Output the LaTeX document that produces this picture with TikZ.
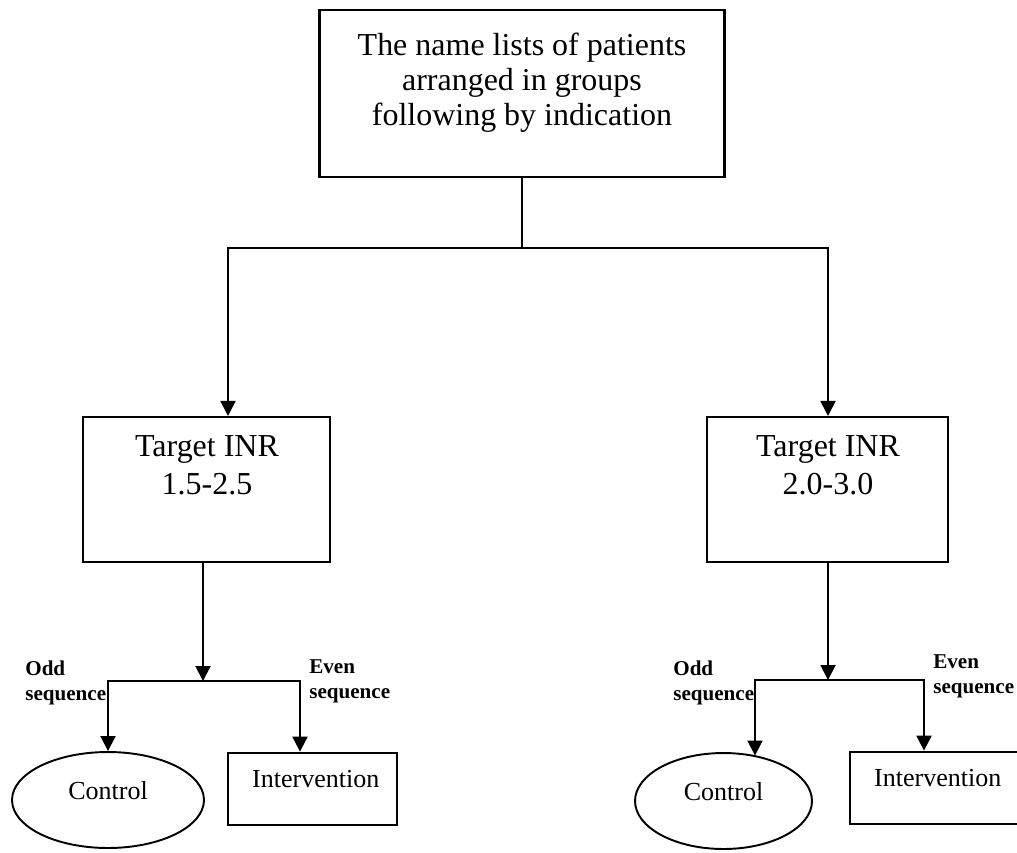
\documentclass[tikz,border=0pt]{standalone}
\usepackage{fontspec}
\setmainfont{Liberation Serif}
\usetikzlibrary{arrows.meta, shapes.geometric}

\begin{document}
\begin{tikzpicture}[x=0.02cm, y=-0.02cm,
  box/.style={draw, line width=1.2pt, inner sep=0pt},
  oval/.style={draw, ellipse, line width=1.1pt, inner sep=0pt, minimum width=3.84cm, minimum height=1.92cm,
    font=\fontsize{14.8}{17}\selectfont, text depth=0.4cm},
  armbox/.style={draw, line width=1.6pt, inner sep=0pt, minimum width=3.38cm, minimum height=1.44cm,
    font=\fontsize{14.8}{17}\selectfont, text depth=0.4cm},
  boxtext/.style={anchor=north, align=center, inner sep=0pt, font=\fontsize{18.2}{19.8}\selectfont},
  seqlabel/.style={anchor=north west, align=left, inner sep=0pt, font=\fontsize{12}{14.2}\selectfont\bfseries},
  arr/.style={line width=1.1pt, -{Triangle[width=0.3cm, length=0.3cm]}},
  ln/.style={line width=1.1pt}]
  \useasboundingbox (0,0) rectangle (1017,852);

  \node[box, minimum width=8.1cm, minimum height=3.34cm] (lists) at (522,93.5) {};
  \node[boxtext] (liststext) at (522,33) {The name lists of patients\\arranged in groups\\following by indication};

  \node[box, minimum width=4.94cm, minimum height=2.9cm] (inrlo) at (206.5,489.5) {};
  \node[boxtext, font=\fontsize{18.2}{21.6}\selectfont] (inrlotext) at (207,435) {Target INR\\1.5-2.5};
  \node[box, minimum width=4.82cm, minimum height=2.9cm] (inrhi) at (827.5,489.5) {};
  \node[boxtext, font=\fontsize{18.2}{21.6}\selectfont] (inrhitext) at (828,435) {Target INR\\2.0-3.0};

  \node[oval] (ctrllo) at (108,800) {Control};
  \node[armbox] (intlo) at (312.5,789) {\hspace*{0.13cm}Intervention};
  \node[oval, minimum width=3.54cm] (ctrlhi) at (723.5,801) {Control};
  \node[armbox] (inthi) at (934.5,788) {\hspace*{0.13cm}Intervention};

  \node[seqlabel] (oddlo) at (25,661) {Odd\\sequence};
  \node[seqlabel] (evenlo) at (309,659) {Even\\sequence};
  \node[seqlabel] (oddhi) at (673,661) {Odd\\sequence};
  \node[seqlabel] (evenhi) at (933,654) {Even\\sequence};

  \coordinate (fork) at (lists.south |- 0,248);
  \coordinate (forklo) at (203,681);
  \coordinate (forkhi) at (828,680);

  \draw[ln] (lists.south) -- (fork);
  \draw[arr] (fork) -| ([xshift=0.43cm]inrlo.north);
  \draw[arr] (fork) -| ([xshift=0.01cm]inrhi.north);

  \draw[arr] (inrlo.south -| forklo) -- (forklo);
  \draw[arr] (forklo) -| (ctrllo.north);
  \draw[arr] (forklo) -| ([xshift=-0.25cm]intlo.north);

  \draw[arr] (inrhi.south -| forkhi) -- (forkhi);
  \draw[arr] (forkhi) -| ([xshift=0.63cm, yshift=-0.07cm]ctrlhi.north);
  \draw[arr] (forkhi) -| ([xshift=-0.21cm]inthi.north);

\end{tikzpicture}
\end{document}
